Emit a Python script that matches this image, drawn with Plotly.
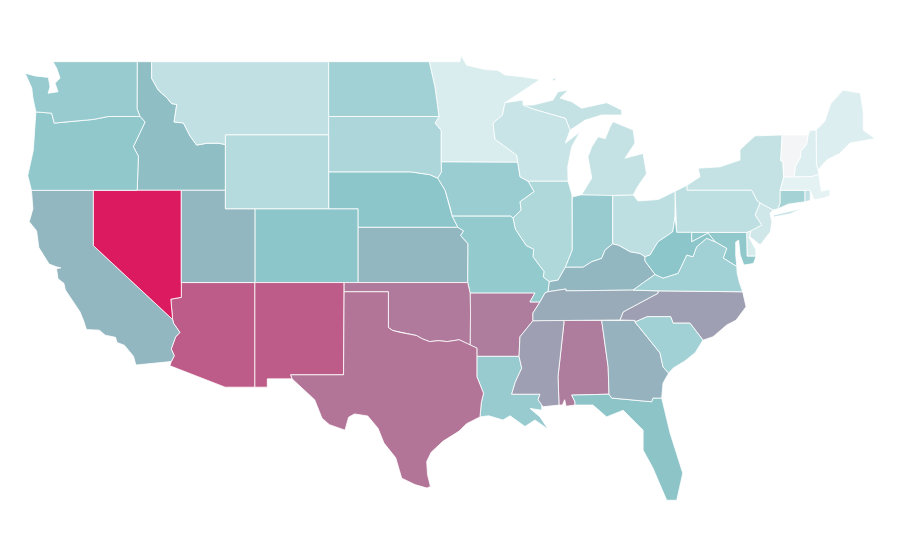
import plotly.graph_objects as go
from plotly.colors import sample_colorscale

# Values (fill colour -> value on the scale)
states = ["AL","AR","AZ","CA","CO","CT","DE","FL","GA","IA","ID","IL","IN","KS","KY","LA","MA","MD","ME","MI","MN","MO","MS","MT","NC","ND","NE","NH","NJ","NM","NV","NY","OH","OK","OR","PA","RI","SC","SD","TN","TX","UT","VA","VT","WA","WI","WV","WY"]
values = [60,60,73,36,30,23,9,31,38,26,33,20,27,36,36,27,5,29,7,14,8,28,46,15,46,24,30,7,11,73,100,14,16,61,29,16,15,24,21,41,63,36,24,0,27,13,30,18]
colorscale = [[0,"#f3f5f6"],[0.05,"#e4f2f3"],[0.3,"#8cc6ca"],[1,"#dc1a60"]]

# Approximate geographic state outlines (longitude, latitude), map base geometry
outlines = {
"WA":[[(-122.74,48.97),(-117.03,48.97),(-117.04,46.42),(-116.84,46),(-119,46),(-120,45.84),(-121.92,45.7),(-122.65,45.64),(-122.83,46.18),(-123.2,46.2),(-123.9,46.25),(-124.1,47),(-124.18,47.54),(-124.63,48.35),(-123.96,48.2),(-123.05,48.12),(-122.94,47.6),(-123.07,47.26),(-122.4,47.34),(-122.6,47.8),(-122.26,48.08),(-122.49,48.62)]],
"OR":[[(-123.9,46.25),(-123.95,45.5),(-124.07,44.18),(-124.45,42.8),(-124.2,42),(-117.03,42),(-116.95,43.85),(-117.29,44.36),(-116.5,45.7),(-116.84,46),(-119,46),(-120,45.84),(-121.92,45.7),(-122.65,45.64),(-122.83,46.18),(-123.2,46.2)]],
"CA":[[(-124.2,42),(-120,42),(-120,39),(-114.63,35),(-114.57,34.8),(-114.14,34.3),(-114.43,34.05),(-114.72,33.4),(-114.52,33.03),(-114.72,32.72),(-117.12,32.53),(-117.28,33),(-117.9,33.6),(-118.4,33.75),(-118.5,34.03),(-119.2,34.15),(-119.6,34.42),(-120.47,34.45),(-120.65,34.9),(-120.9,35.4),(-121.9,36.6),(-122,36.96),(-122.4,37.2),(-122.5,37.75),(-122.2,37.8),(-122.5,37.85),(-123,38),(-123.7,38.9),(-123.85,39.8),(-124.35,40.3),(-124.1,41)]],
"NV":[[(-120,42),(-114.04,42),(-114.04,36.2),(-114.75,36.1),(-114.63,35),(-120,39)]],
"ID":[[(-117.03,48.97),(-116.05,48.97),(-116.05,48.07),(-115.6,47.43),(-115,47),(-114.7,46.7),(-114.35,46.65),(-114.53,45.7),(-113.9,45.65),(-113.45,44.95),(-113,44.45),(-112.3,44.55),(-111.5,44.55),(-111.05,44.48),(-111.05,42),(-117.03,42),(-116.95,43.85),(-117.29,44.36),(-116.5,45.7),(-116.84,46),(-117.04,46.42)]],
"MT":[[(-116.05,48.97),(-104.05,48.97),(-104.05,45),(-111.05,45),(-111.05,44.48),(-111.5,44.55),(-112.3,44.55),(-113,44.45),(-113.45,44.95),(-113.9,45.65),(-114.53,45.7),(-114.35,46.65),(-114.7,46.7),(-115,47),(-115.6,47.43),(-116.05,48.07)]],
"WY":[[(-111.05,45),(-104.05,45),(-104.05,41),(-111.05,41)]],
"UT":[[(-114.04,42),(-111.05,42),(-111.05,41),(-109.05,41),(-109.05,37),(-114.04,37)]],
"CO":[[(-109.05,41),(-102.05,41),(-102.05,37),(-109.05,37)]],
"AZ":[[(-114.04,37),(-109.05,37),(-109.05,31.33),(-111.07,31.33),(-114.81,32.49),(-114.72,32.72),(-114.52,33.03),(-114.72,33.4),(-114.43,34.05),(-114.14,34.3),(-114.57,34.8),(-114.63,35),(-114.75,36.1),(-114.04,36.2)]],
"NM":[[(-109.05,37),(-103,37),(-103.04,32),(-106.62,32),(-106.53,31.78),(-108.21,31.78),(-108.21,31.33),(-109.05,31.33)]],
"ND":[[(-104.05,48.97),(-97.23,48.97),(-96.84,47.6),(-96.57,46),(-104.05,46)]],
"SD":[[(-104.05,46),(-96.57,46),(-96.84,45.64),(-96.43,45.26),(-96.43,43.55),(-96.4,43),(-96.66,42.66),(-97.2,42.85),(-98.5,43),(-104.05,43)]],
"NE":[[(-104.05,43),(-98.5,43),(-97.2,42.85),(-96.66,42.66),(-96.16,42),(-95.8,41.03),(-95.68,40.6),(-95.3,40),(-102.05,40),(-102.05,41),(-104.05,41)]],
"KS":[[(-102.05,40),(-95.3,40),(-94.9,39.8),(-95.1,39.55),(-94.6,39.1),(-94.62,37),(-102.05,37)]],
"OK":[[(-103,37),(-94.62,37),(-94.46,36.44),(-94.43,35.4),(-94.46,33.61),(-95.2,33.9),(-96,33.8),(-96.6,33.85),(-97.2,33.8),(-97.7,33.95),(-98.1,34.13),(-99.2,34.3),(-99.7,34.4),(-100,34.56),(-100,36.5),(-103,36.5)]],
"TX":[[(-106.62,32),(-103.04,32),(-103,36.5),(-100,36.5),(-100,34.56),(-99.7,34.4),(-99.2,34.3),(-98.1,34.13),(-97.7,33.95),(-97.2,33.8),(-96.6,33.85),(-96,33.8),(-95.2,33.9),(-94.46,33.61),(-94,33.45),(-94,33),(-94,31.9),(-93.55,31),(-93.7,30.5),(-93.79,29.72),(-94.7,29.35),(-95.2,28.95),(-96.3,28.4),(-97.1,27.8),(-97.4,27.3),(-97.35,26.6),(-97.15,25.95),(-97.38,25.86),(-98.2,26.05),(-99.1,26.4),(-99.5,27.5),(-100.3,28.3),(-100.7,29.1),(-101.4,29.77),(-102.3,29.88),(-102.7,29.7),(-102.94,29),(-104,29.3),(-104.5,29.65),(-105,30.65),(-106,31.4),(-106.53,31.78)]],
"AR":[[(-94.46,36.44),(-90.06,36.44),(-90.4,35.95),(-89.72,35.95),(-90.2,35.35),(-90.2,34.93),(-91.08,34.06),(-91.14,33),(-94,33),(-94,33.45),(-94.46,33.61),(-94.43,35.4)]],
"LA":[[(-94,33),(-91.14,33),(-90.96,32.36),(-91.4,31.6),(-91.64,30.95),(-89.72,30.95),(-89.85,30.65),(-89.6,30.36),(-89.6,30.08),(-90.4,30.18),(-89.72,29.72),(-89.17,29.05),(-90.06,29.55),(-90.74,29.2),(-91.75,29.78),(-92.23,29.55),(-93.2,29.78),(-93.79,29.72),(-93.7,30.5),(-93.55,31),(-94,31.9)]],
"MS":[[(-90.2,34.93),(-88.2,34.97),(-88.09,34.87),(-88.5,31.9),(-88.43,30.36),(-89.5,30.27),(-89.6,30.36),(-89.85,30.65),(-89.72,30.95),(-91.64,30.95),(-91.4,31.6),(-90.96,32.36),(-91.14,33),(-91.08,34.06)]],
"AL":[[(-88.2,34.97),(-85.54,34.95),(-85.1,32.43),(-85.04,30.95),(-87.57,30.9),(-87.35,30.54),(-87.35,30.36),(-87.95,30.3),(-88.05,30.65),(-88.2,30.36),(-88.43,30.36),(-88.5,31.9),(-88.09,34.87)]],
"GA":[[(-85.54,34.95),(-83.28,34.95),(-83.28,34.86),(-82.82,34.42),(-81.58,33.18),(-81.38,32.43),(-81,32.09),(-81.38,31.55),(-81.47,30.74),(-82.06,30.74),(-82.15,30.54),(-84.86,30.74),(-85.04,30.95),(-85.1,32.43)]],
"FL":[[(-87.57,30.9),(-85.04,30.95),(-84.86,30.74),(-82.15,30.54),(-82.06,30.74),(-81.47,30.74),(-80.9,28.84),(-80.04,26.67),(-80.45,25.2),(-81.13,25.2),(-82.06,26.94),(-82.73,27.92),(-82.73,29),(-84.08,30.08),(-85.2,29.72),(-86.13,30.36),(-87.35,30.36),(-87.35,30.54)]],
"SC":[[(-83.28,34.86),(-82.45,35.15),(-80.86,35.15),(-80.7,34.8),(-79.55,34.8),(-78.67,33.88),(-79.2,33.2),(-79.9,32.75),(-80.7,32.36),(-81,32.09),(-81.38,32.43),(-81.58,33.18),(-82.82,34.42)]],
"NC":[[(-84.3,34.97),(-83.28,34.95),(-83.28,34.86),(-82.45,35.15),(-80.86,35.15),(-80.7,34.8),(-79.55,34.8),(-78.67,33.88),(-77.99,34.06),(-77.06,34.7),(-76.43,34.96),(-75.75,35.69),(-75.98,36.5),(-81.72,36.55),(-81.72,36.42),(-82.94,35.88),(-84.08,35.41)]],
"TN":[[(-90.2,34.93),(-84.3,34.97),(-84.08,35.41),(-82.94,35.88),(-81.72,36.42),(-81.72,36.55),(-83.41,36.59),(-87.96,36.55),(-87.96,36.65),(-89.18,36.5),(-89.38,36.44),(-89.72,35.95),(-90.2,35.35)]],
"KY":[[(-89.18,36.5),(-87.96,36.65),(-87.96,36.55),(-83.41,36.59),(-82.7,37),(-81.92,37.44),(-82.6,38.17),(-82.6,38.4),(-82.94,38.58),(-83.6,38.67),(-84.4,39.03),(-84.79,39.1),(-85.31,38.76),(-85.54,38.31),(-86.21,38.13),(-86.8,37.83),(-88,37.83),(-88.5,37.13),(-89.1,37.05)]],
"IL":[[(-90.53,42.5),(-87.82,42.5),(-87.55,41.74),(-87.53,38.76),(-88,37.83),(-88.5,37.13),(-89.1,37.05),(-89.5,37.3),(-89.45,37.6),(-90.2,38.4),(-90.15,38.8),(-90.65,39),(-91.4,39.9),(-91.55,40.5),(-91,40.93),(-91.07,41.38),(-90.12,41.93)]],
"IN":[[(-87.53,41.7),(-87.48,41.65),(-86.9,41.76),(-84.79,41.76),(-84.79,39.1),(-85.31,38.76),(-85.54,38.31),(-86.21,38.13),(-86.8,37.83),(-88,37.83),(-87.53,38.76)]],
"OH":[[(-84.79,41.72),(-83.4,41.74),(-83.07,41.42),(-82.7,41.45),(-81.7,41.5),(-80.56,41.95),(-80.57,40.56),(-80.72,39.75),(-81.72,39.21),(-82.26,38.49),(-82.6,38.4),(-82.94,38.58),(-83.6,38.67),(-84.4,39.03),(-84.79,39.1)]],
"WV":[[(-80.57,40.56),(-80.45,39.72),(-79.44,39.72),(-79.44,39.21),(-78.33,39.68),(-77.85,39.21),(-78.42,39.4),(-79.1,38.94),(-79.35,38.4),(-79.77,38.49),(-80.36,37.5),(-81.38,37.24),(-81.92,37.44),(-82.6,38.17),(-82.6,38.4),(-82.26,38.49),(-81.72,39.21),(-80.72,39.75)]],
"VA":[[(-83.41,36.59),(-81.72,36.55),(-75.98,36.5),(-76.2,37),(-76.35,37.5),(-76.38,37.87),(-77.3,38.33),(-77.06,38.85),(-77.85,39.21),(-78.42,39.4),(-79.1,38.94),(-79.35,38.4),(-79.77,38.49),(-80.36,37.5),(-81.38,37.24),(-81.92,37.44),(-82.7,37)]],
"MD":[[(-79.44,39.72),(-75.71,39.72),(-75.68,38.43),(-75.07,38.43),(-75.25,38.03),(-75.9,37.95),(-76.15,38.5),(-76.25,39.3),(-76.45,39.2),(-76.45,38.5),(-76.38,37.87),(-77.3,38.33),(-77.06,38.85),(-77.85,39.21),(-78.33,39.68),(-79.44,39.21)]],
"DE":[[(-75.71,39.72),(-75.42,39.8),(-75.55,39.45),(-75.1,38.8),(-75.07,38.43),(-75.68,38.43)]],
"PA":[[(-80.56,41.95),(-79.76,42.27),(-79.76,42),(-75.37,42),(-75,41.43),(-74.8,41.32),(-75.14,40.66),(-74.69,40.12),(-75.42,39.8),(-75.71,39.72),(-80.45,39.72)]],
"NJ":[[(-74.8,41.32),(-73.9,40.93),(-74.13,40.76),(-74,40.3),(-74.1,39.75),(-74.8,39.03),(-75.5,39.5),(-75.42,39.8),(-74.69,40.12),(-75.14,40.66)]],
"NY":[[(-79.76,42.27),(-79.76,42),(-75.37,42),(-75,41.43),(-74.8,41.32),(-73.9,40.93),(-73.58,41),(-73.45,41.3),(-73.45,42),(-73.2,42.73),(-73.25,43.55),(-73.4,43.6),(-73.3,45),(-75.14,44.95),(-76.16,44.2),(-76.16,43.64),(-77.52,43.27),(-79,43.2),(-78.87,42.73)],
      [(-73.9,40.65),(-71.9,41.03),(-72.8,40.72),(-73.9,40.55)]],
"VT":[[(-73.3,45),(-71.55,45),(-71.65,44.5),(-72.05,44.1),(-72.05,43.8),(-72.4,43.3),(-72.5,42.73),(-73.2,42.73),(-73.25,43.55),(-73.4,43.6)]],
"NH":[[(-71.55,45),(-71.4,45.26),(-71,45.26),(-70.98,43.4),(-70.87,43.1),(-70.82,42.87),(-71.3,42.75),(-72.5,42.73),(-72.4,43.3),(-72.05,43.8),(-72.05,44.1),(-71.65,44.5)]],
"ME":[[(-71,45.26),(-70.4,45.75),(-70.2,46.25),(-70,46.7),(-69.18,47.43),(-68,47.27),(-67.8,46.2),(-67.8,45.26),(-67,44.8),(-68.7,44.56),(-69.4,44),(-70.28,43.64),(-70.87,43.1),(-70.98,43.4)]],
"MA":[[(-73.45,42),(-73.2,42.73),(-72.5,42.73),(-71.3,42.75),(-70.82,42.87),(-70.74,42.38),(-70.65,41.95),(-70.06,42.05),(-70.06,41.7),(-70.6,41.55),(-71.15,41.5),(-71.4,42),(-71.75,42)]],
"CT":[[(-73.45,42),(-71.75,42),(-71.75,41.38),(-72.9,41.25),(-73.58,41),(-73.45,41.3)]],
"RI":[[(-71.75,42),(-71.4,42),(-71.4,41.45),(-71.75,41.38)]],
"MI":[[(-86.9,41.76),(-84.79,41.72),(-83.4,41.74),(-83.1,42.2),(-82.5,42.9),(-82.73,44),(-83.96,43.74),(-83.28,44.56),(-83.4,45.27),(-84.77,45.72),(-84.97,45.44),(-85.3,44.8),(-85.78,44.9),(-86.21,44.36),(-86.47,43.82),(-86.21,42.66)],
      [(-90.87,46.62),(-90.19,46.62),(-88.84,46.89),(-88.5,47.34),(-87.8,47.43),(-88.36,47),(-87.57,46.8),(-86.9,46.45),(-85.2,46.75),(-84.18,46.35),(-84.18,46.08),(-85.54,46.08),(-86.67,45.8),(-87.68,45.26),(-88,45.9),(-90.19,46.4)],
      [(-89,47.97),(-88.6,48.12),(-88.7,47.95)]],
"WI":[[(-92.09,46.75),(-90.87,46.89),(-90.87,46.62),(-90.19,46.4),(-88,45.9),(-87.68,45.26),(-88,44.56),(-87.4,44.9),(-87,45.17),(-87.57,44.36),(-87.84,43.28),(-87.82,42.5),(-90.53,42.5),(-91.07,42.73),(-91.23,43.5),(-91.3,43.9),(-92.77,44.77),(-92.9,45.64),(-92.27,46.07)]],
"MN":[[(-97.23,48.97),(-95.15,48.97),(-95.08,49.33),(-94.69,48.78),(-93.45,48.55),(-92.57,48.5),(-92.1,48.25),(-90.87,48.15),(-89.72,48),(-92.09,46.75),(-92.27,46.07),(-92.9,45.64),(-92.77,44.77),(-91.3,43.9),(-91.23,43.53),(-96.43,43.55),(-96.43,45.26),(-96.84,45.64),(-96.57,46),(-96.84,47.6)]],
"IA":[[(-96.43,43.55),(-91.23,43.53),(-91.07,42.73),(-90.53,42.5),(-90.12,41.93),(-91.07,41.38),(-91,40.93),(-91.55,40.5),(-91.72,40.6),(-95.68,40.6),(-95.8,41.03),(-96.16,42),(-96.66,42.66),(-96.4,43)]],
"MO":[[(-95.68,40.6),(-91.72,40.6),(-91.55,40.5),(-91.4,39.9),(-90.65,39),(-90.15,38.8),(-90.2,38.4),(-89.45,37.6),(-89.5,37.3),(-89.1,37.05),(-89.18,36.5),(-89.38,36.44),(-89.72,35.95),(-90.4,35.95),(-90.06,36.44),(-94.46,36.44),(-94.62,37),(-94.6,39.1),(-95.1,39.55),(-94.9,39.8),(-95.3,40)]],
}

lon_range = [-125.79, -64.77]
lat_range = [21.53, 51.88]

fig = go.Figure()
for state, value in zip(states, values):
    xs, ys = [], []
    for ring in outlines[state]:
        xs += [p[0] for p in ring] + [ring[0][0], None]
        ys += [p[1] for p in ring] + [ring[0][1], None]
    fig.add_trace(go.Scatter(
        x=xs, y=ys, mode="lines", fill="toself", name=state,
        fillcolor=sample_colorscale(colorscale, value / 100)[0],
        line=dict(color="white", width=0.8),
        text=f"{state}: {value}", hoverinfo="text", showlegend=False,
    ))
fig.update_xaxes(range=lon_range, visible=False)
fig.update_yaxes(range=lat_range, visible=False)
fig.update_layout(width=900, height=560, margin=dict(l=0, r=0, t=0, b=0),
                  paper_bgcolor="white", plot_bgcolor="white", showlegend=False)
fig.write_html("out.html")
